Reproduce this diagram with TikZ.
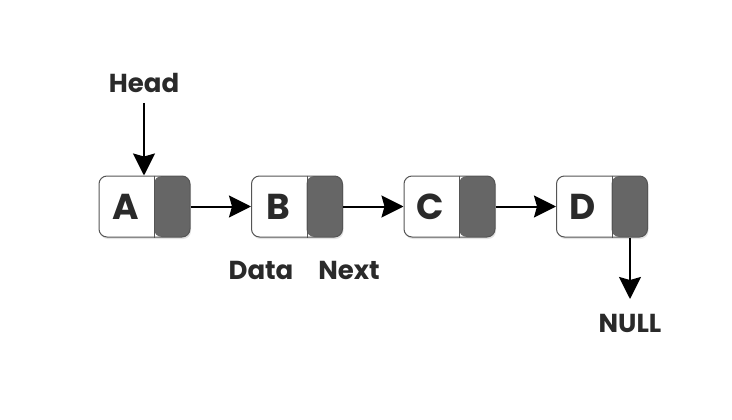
\documentclass[tikz,border=0pt]{standalone}
\usepackage{fontspec}
\setmainfont{Poppins}
\usetikzlibrary{arrows.meta,shadows}
\definecolor{nextgrey}{HTML}{666666}
\definecolor{edgegrey}{HTML}{555555}
\definecolor{txt}{HTML}{2A2A2A}
\tikzset{
  cellbox/.style={draw=edgegrey, line width=1pt, fill=white, rounded corners=8pt,
    minimum width=91pt, minimum height=61pt, inner sep=0pt,
    drop shadow={shadow xshift=1pt, shadow yshift=-2pt, fill=black!18, opacity=0.6},
    path picture={\fill[nextgrey] ([xshift=-36pt]path picture bounding box.north east) rectangle (path picture bounding box.south east);}},
  celltext/.style={font=\fontsize{36}{36}\selectfont\bfseries, text=txt, inner sep=0pt},
  lbl/.style={font=\fontsize{26}{26}\selectfont\bfseries, text=txt, inner sep=0pt},
  link/.style={line width=2pt, -{Stealth[length=22pt,width=22pt,inset=3pt]}}
}
\begin{document}
\begin{tikzpicture}[x=1pt,y=-1pt]
\useasboundingbox (0,0) rectangle (732,420);
\node[cellbox] (A) at (144.5,206.5) {};
\node[cellbox] (B) at (297,206.5) {};
\node[cellbox] (C) at (449.5,206.5) {};
\node[cellbox] (D) at (602,206.5) {};
\foreach \n in {A,B,C,D}{
  \draw[edgegrey, line width=1pt] ([xshift=-36pt]\n.north east) -- ([xshift=-36pt]\n.south east);
  \node[celltext] (\n t) at ([xshift=-19pt]\n.center) {\n};
}
\node[lbl] (head) at (144,83) {Head};
\node[lbl] (data) at (261,270) {Data};
\node[lbl] (next) at (349,270) {Next};
\node[lbl] (null) at (630,323) {NULL};
\coordinate (headtop) at (144,103);
\coordinate (nulltop) at (630,238);
\coordinate (nullend) at (630,299);
\draw[link] (headtop) -- (A.north -| headtop);
\draw[link] (A.east) -- (B.west);
\draw[link] (B.east) -- (C.west);
\draw[link] (C.east) -- (D.west);
\draw[link] (D.south -| nulltop) -- (nullend);
\end{tikzpicture}
\end{document}
